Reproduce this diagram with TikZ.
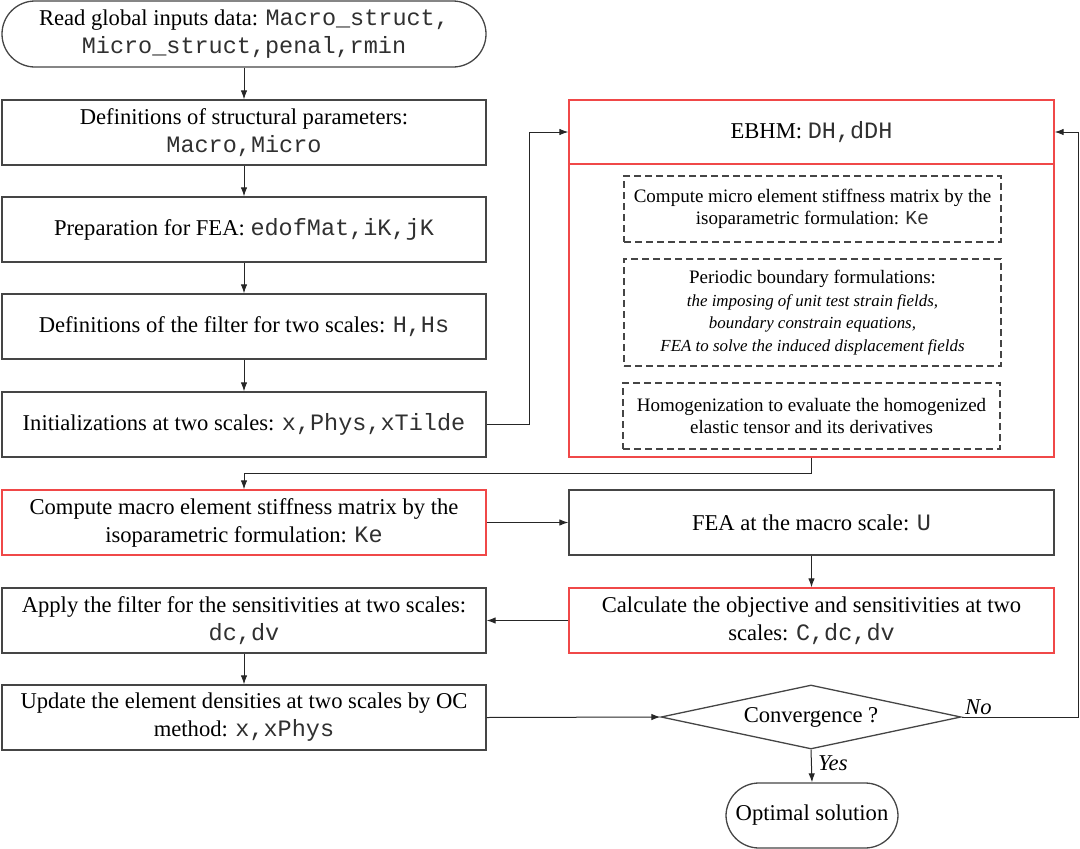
\documentclass[tikz,border=0pt]{standalone}
\usepackage{fontspec}
\setmainfont{Liberation Serif}
\setmonofont[Scale=1.04]{Liberation Mono}
\usetikzlibrary{shapes.geometric,arrows.meta}
\definecolor{bord}{HTML}{454545}
\definecolor{redb}{HTML}{F04848}
\definecolor{codec}{HTML}{303030}
\newcommand{\cd}[1]{{\ttfamily\color{codec}#1}}
\newcommand{\mainsz}{\fontsize{22.6}{28}\selectfont}
\newcommand{\smallsz}{\fontsize{19}{22.5}\selectfont}
\newcommand{\itsz}{\fontsize{16.9}{21.5}\selectfont}
\tikzset{
  box/.style={draw=bord, line width=1.3pt, minimum width=484pt, minimum height=65pt,
    align=center, inner sep=2pt, font=\mainsz, text=black},
  redbox/.style={box, draw=redb},
  dbox/.style={draw=bord, line width=1.3pt, dash pattern=on 7pt off 4pt, minimum width=377pt,
    align=center, inner sep=2pt, font=\smallsz, text=black},
  term/.style={box, rounded corners=33pt},
  arr/.style={-{Latex[length=9pt,width=6.5pt]}, line width=1pt, draw=black!85},
  lab/.style={font=\mainsz\itshape, text=black, inner sep=0pt}
}
\begin{document}
\begin{tikzpicture}[x=1pt,y=-1pt]
\useasboundingbox (0,0) rectangle (1080,849);
% left column
\node[term, minimum height=66pt] (start) at (244,34) {Read global inputs data: \cd{Macro\_struct,}\\\cd{Micro\_struct,penal,rmin}};
\node[box] (def) at (244,132.5) {Definitions of structural parameters:\\\cd{Macro,Micro}};
\node[box] (prep) at (244,229.5) {Preparation for FEA: \cd{edofMat,iK,jK}};
\node[box] (filt) at (244,326.5) {Definitions of the filter for two scales: \cd{H,Hs}};
\node[box] (init) at (244,424.5) {Initializations at two scales: \cd{x,Phys,xTilde}};
\node[redbox] (macro) at (244,522.5) {Compute macro element stiffness matrix by the\\isoparametric formulation: \cd{Ke}};
\node[box] (apply) at (244,620.5) {Apply the filter for the sensitivities at two scales:\\\cd{dc,dv}};
\node[box] (update) at (244,717.5) {Update the element densities at two scales by OC\\method: \cd{x,xPhys}};
% EBHM block
\node[redbox, minimum width=485pt, minimum height=64pt] (ebhm) at (811.5,132) {EBHM: \cd{DH,dDH}};
\node[draw=redb, line width=1.3pt, minimum width=485pt, minimum height=293pt, inner sep=0pt] (ebody) at (811.5,310.5) {};
\node[dbox, minimum height=66pt] (d1) at (812.5,209) {Compute micro element stiffness matrix by the\\isoparametric formulation: \cd{Ke}};
\node[dbox, minimum height=107pt] (d2) at (812.5,312.5) {Periodic boundary formulations:\\{\itsz\itshape the imposing of unit test strain fields,}\\{\itsz\itshape boundary constrain equations,}\\{\itsz\itshape FEA to solve the induced displacement fields}};
\node[dbox, minimum height=66pt] (d3) at (811.5,416) {Homogenization to evaluate the homogenized\\elastic tensor and its derivatives};
% right column
\node[box, minimum width=485pt] (fea) at (811.5,522.5) {FEA at the macro scale: \cd{U}};
\node[redbox, minimum width=485pt] (calc) at (811.5,620.5) {Calculate the objective and sensitivities at two\\scales: \cd{C,dc,dv}};
\node[draw=bord, line width=1.3pt, diamond, aspect=4.69, minimum width=300pt, minimum height=64pt, inner sep=0pt, font=\mainsz] (conv) at (811,717) {Convergence ?};
\node[term, minimum width=172pt, minimum height=65pt] (opt) at (812,815.5) {Optimal solution};
% connectors
\draw[arr] (start) -- (def);
\draw[arr] (def) -- (prep);
\draw[arr] (prep) -- (filt);
\draw[arr] (filt) -- (init);
\draw[arr] (init.east) -- (529,424.5) |- (ebhm.west);
\coordinate (bend) at (811.5,473);
\draw[arr] (ebody.south) -- (bend) -| (macro.north);
\draw[arr] (macro.east) -- (fea.west);
\draw[arr] (fea.south) -- (calc.north);
\draw[arr] (calc.west) -- (apply.east);
\draw[arr] (apply) -- (update);
\draw[arr] (update.east) -- (conv.west);
\draw[arr] (conv.south) -- (opt.north);
\draw[arr] (conv.east) -- (1078,717) |- (ebhm.east);
\node[lab, anchor=south west] (no) at (965,715) {No};
\node[lab, anchor=west] (yes) at (818,763) {Yes};
\end{tikzpicture}
\end{document}
